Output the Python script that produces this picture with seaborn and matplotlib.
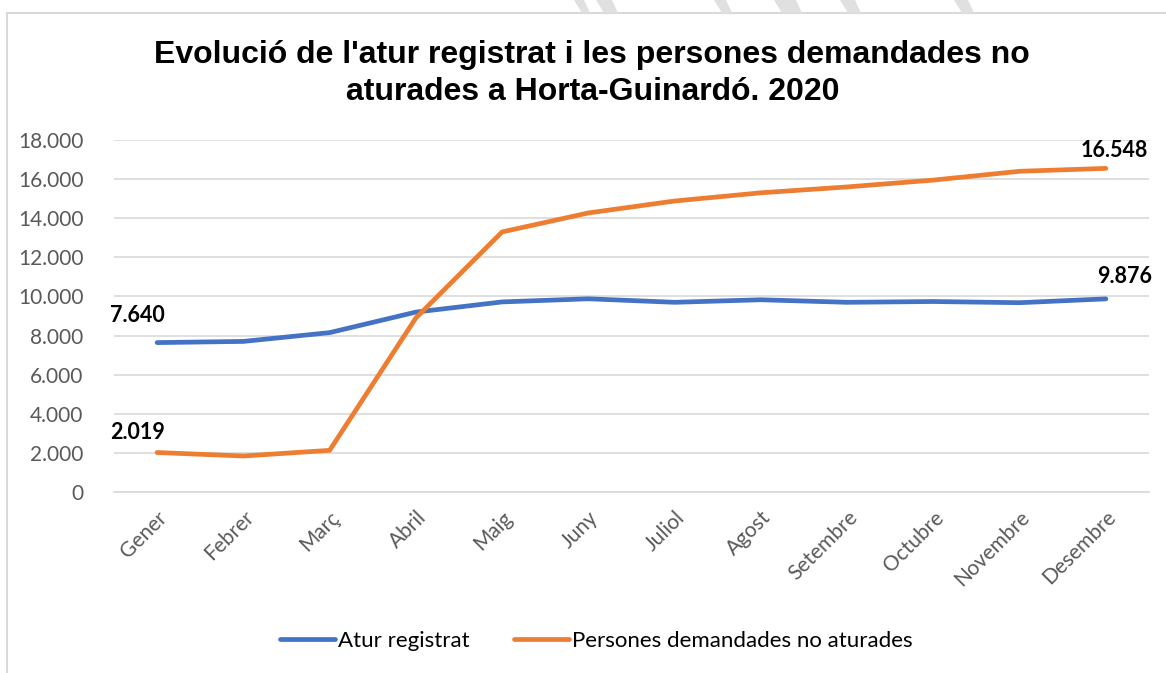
import pandas as pd
import numpy as np
import matplotlib.pyplot as plt
import matplotlib.ticker as mticker
from matplotlib.patches import Rectangle, Polygon
from matplotlib.lines import Line2D
import seaborn as sns

# ── Dades ─────────────────────────────────────────────────
mesos = ["Gener", "Febrer", "Març", "Abril", "Maig", "Juny", "Juliol",
         "Agost", "Setembre", "Octubre", "Novembre", "Desembre"]
atur_registrat = [7640, 7700, 8150, 9200, 9720, 9880, 9700, 9830, 9700, 9740, 9680, 9876]
no_aturades = [2019, 1840, 2130, 8900, 13300, 14270, 14880, 15300, 15600, 15950, 16400, 16548]
serie_noms = ["Atur registrat", "Persones demandades no aturades"]
colors = ["#4472C4", "#ED7D31"]

df = pd.DataFrame({
    "mes": mesos * 2,
    "x": list(range(len(mesos))) * 2,
    "valor": atur_registrat + no_aturades,
    "serie": [serie_noms[0]] * len(mesos) + [serie_noms[1]] * len(mesos),
})

# ── Figura ────────────────────────────────────────────────
sns.set_theme(style="white")
plt.rcParams["font.family"] = ["Lato", "DejaVu Sans"]

fig = plt.figure(figsize=(11.66, 6.73), dpi=100)
W, H = 1166, 673
ax = fig.add_axes([114 / W, 1 - 492 / H, (1149 - 114) / W, (492 - 140) / H])

# marc del gràfic i ratlles de fons
fig.patches.append(Rectangle((7 / W, -0.05), 1.1, 1 - 13 / H + 0.05, transform=fig.transFigure,
                             fill=False, edgecolor="#d9d9d9", lw=1.5, zorder=0))
for x0, w in [(582, 8), (604, 14), (722, 10), (782, 20), (848, 13), (962, 12)]:
    pts = [(x0, 13), (x0 + w, 13), (x0 + w - 6, 0), (x0 - 8, 0)]
    fig.patches.append(Polygon([(p[0] / W, 1 - p[1] / H) for p in pts], closed=True,
                               transform=fig.transFigure, facecolor="#e0e0e0", edgecolor="none"))

sns.lineplot(data=df, x="x", y="valor", hue="serie", palette=colors, lw=3.4,
             ax=ax, legend=False, solid_capstyle="round", zorder=3)

ax.set_xlim(-0.5, len(mesos) - 0.5)
ax.set_ylim(0, 18000)
ax.set_yticks(np.arange(0, 18001, 2000))
ax.yaxis.set_major_formatter(mticker.FuncFormatter(lambda v, p: f"{int(v):,}".replace(",", ".")))
ax.grid(axis="y", color="#d9d9d9", lw=1.2)
ax.set_axisbelow(True)
for s in ["top", "right", "left"]:
    ax.spines[s].set_visible(False)
ax.spines["bottom"].set_color("#d9d9d9")
ax.spines["bottom"].set_linewidth(1.2)

ax.set_xticks(range(len(mesos)))
ax.set_xticklabels(mesos, rotation=45, ha="right", rotation_mode="anchor")
ax.set_xticks(np.arange(-0.5, len(mesos)), minor=True)
ax.tick_params(axis="x", which="major", length=0, pad=11, labelsize=15, labelcolor="#595959")
ax.tick_params(axis="x", which="minor", length=6, color="#d9d9d9", width=1.2)
ax.tick_params(axis="y", length=0, pad=22, labelsize=15, labelcolor="#595959")
ax.set_xlabel("")
ax.set_ylabel("")

# etiquetes de dades
etiquetes = [(0, atur_registrat[0], -20, 27), (0, no_aturades[0], -20, 20),
             (11, atur_registrat[-1], 19, 22), (11, no_aturades[-1], 8, 18)]
for i, v, dx, dy in etiquetes:
    ax.annotate(f"{v:,}".replace(",", "."), (i, v), xytext=(dx, dy), textcoords="offset pixels",
                ha="center", va="center", fontsize=15.5, fontweight="bold", color="black")

# títol
titol_font = ["Liberation Sans", "DejaVu Sans"]
fig.text(0.508, 1 - 63 / H, "Evolució de l'atur registrat i les persones demandades no",
         ha="center", va="baseline", fontsize=23, fontweight="bold", color="black",
         family=titol_font)
fig.text(0.508, 1 - 100 / H, "aturades a Horta-Guinardó. 2020",
         ha="center", va="baseline", fontsize=23, fontweight="bold", color="black",
         family=titol_font)

# llegenda
handles = [Line2D([0], [0], color=c, lw=3.4, solid_capstyle="round") for c in colors]
fig.legend(handles, serie_noms, loc="center", bbox_to_anchor=(596 / W, 1 - 641 / H),
           ncol=2, frameon=False, fontsize=16, handlelength=2.5, handletextpad=0.1,
           columnspacing=2.0, labelcolor="black")

fig.savefig("out.png", dpi=100)
